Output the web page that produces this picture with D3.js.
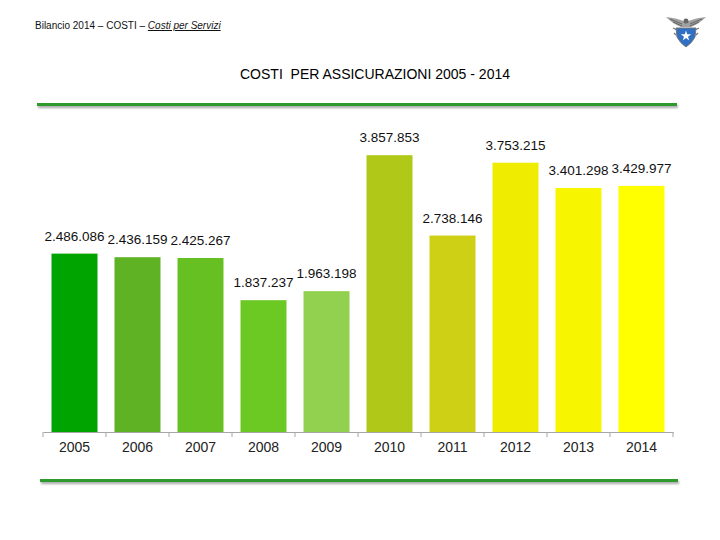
<!DOCTYPE html>
<html>
<head>
<meta charset="utf-8">
<script src="https://cdn.jsdelivr.net/npm/d3@7"></script>
<style>
  body { margin: 0; background: #fff; }
  svg { display: block; font-family: "Liberation Sans", Arial, sans-serif; }
</style>
</head>
<body>
<svg id="chart" width="720" height="540"></svg>
<script>
// dati del grafico
const years = ["2005", "2006", "2007", "2008", "2009", "2010", "2011", "2012", "2013", "2014"];
const costs = [2486086, 2436159, 2425267, 1837237, 1963198, 3857853, 2738146, 3753215, 3401298, 3429977];
const barColors = ["#00a400", "#5fb224", "#66c022", "#6cc924", "#92d050", "#b0c817", "#cdd015", "#f0ec00", "#f8f500", "#ffff00"];

const svg = d3.select("#chart");

// intestazione
const head = svg.append("text").attr("x", 35).attr("y", 29)
  .attr("font-size", 10).attr("fill", "#111");
head.append("tspan").text("Bilancio 2014 – COSTI – ");
head.append("tspan").attr("font-style", "italic").attr("text-decoration", "underline").text("Costi per Servizi");

// logo (approssimato)
const logo = svg.append("g").attr("transform", "translate(686,31)");
logo.append("path").attr("d", "M-20,-14 Q-9,-13 0,-9 Q9,-13 20,-14 Q13,-7 5,-4 L-5,-4 Q-13,-7 -20,-14Z")
  .attr("fill", "#a0a0a0");
logo.append("path").attr("d", "M-16,-12 L-4,-7 M16,-12 L4,-7 M-13,-9 L-4,-5 M13,-9 L4,-5").attr("stroke", "#555").attr("stroke-width", 0.8);
logo.append("circle").attr("cx", 0).attr("cy", -10).attr("r", 2.5).attr("fill", "#666");
logo.append("path").attr("d", "M-13,-3 L-9,-1 M13,-3 L9,-1 M-12,2 L-10,4 M12,2 L10,4").attr("stroke", "#777").attr("stroke-width", 1.2);
logo.append("path").attr("d", "M-10,-3 L10,-3 L9,6 Q6,12 0,16 Q-6,12 -9,6Z").attr("fill", "#2f6fc4")
  .attr("stroke", "#777").attr("stroke-width", 1);
logo.append("path").attr("d", d3.symbol(d3.symbolStar, 34)()).attr("transform", "translate(0,5)").attr("fill", "#fff");

// titolo
svg.append("text").attr("x", 375).attr("y", 79).attr("text-anchor", "middle")
  .attr("font-size", 14).attr("fill", "#000").style("white-space", "pre")
  .text("COSTI  PER ASSICURAZIONI 2005 - 2014");

// linee verdi con ombra
const defs = svg.append("defs");
const f = defs.append("filter").attr("id", "sh").attr("filterUnits", "userSpaceOnUse")
  .attr("x", 0).attr("y", 0).attr("width", 720).attr("height", 540);
f.append("feDropShadow").attr("dx", 1).attr("dy", 2).attr("stdDeviation", 1.2).attr("flood-color", "#000").attr("flood-opacity", 0.35);
[[37, 677, 103], [40, 678, 479]].forEach(([x1, x2, yy]) => {
  svg.append("rect").attr("x", x1).attr("y", yy).attr("width", x2 - x1).attr("height", 3)
    .attr("fill", "#2e9a2e").attr("filter", "url(#sh)");
});

// scale
const x = d3.scaleBand().domain(years).range([43, 673]).paddingInner(0.27).paddingOuter(0.135);
const y = d3.scaleLinear().domain([0, 4000000]).range([432, 145]);

svg.append("g").selectAll("rect").data(years).join("rect")
  .attr("x", d => x(d))
  .attr("y", (d, i) => y(costs[i]))
  .attr("width", x.bandwidth())
  .attr("height", (d, i) => y(0) - y(costs[i]))
  .attr("fill", (d, i) => barColors[i]);

const fmt = v => d3.format(",")(v).replace(/,/g, ".");
svg.append("g").selectAll("text").data(years).join("text")
  .attr("x", d => x(d) + x.bandwidth() / 2)
  .attr("y", (d, i) => y(costs[i]) - 13)
  .attr("text-anchor", "middle").attr("font-size", 13.5).attr("fill", "#111")
  .text((d, i) => fmt(costs[i]));

// asse x
const axisX = d3.scaleBand().domain(years).range([43, 673]);
const ax = svg.append("g").attr("transform", "translate(0,432)")
  .call(d3.axisBottom(axisX).tickSize(0).tickPadding(10));
ax.select(".domain").attr("stroke", "#a6a6a6");
ax.selectAll("text").attr("font-size", 14).attr("fill", "#222").attr("font-family", "Liberation Sans, Arial, sans-serif");
ax.selectAll(".sep").data(d3.range(years.length + 1)).join("line")
  .attr("class", "sep")
  .attr("x1", i => 43 + i * axisX.step()).attr("x2", i => 43 + i * axisX.step())
  .attr("y1", 0).attr("y2", 5).attr("stroke", "#a6a6a6");
</script>
</body>
</html>
